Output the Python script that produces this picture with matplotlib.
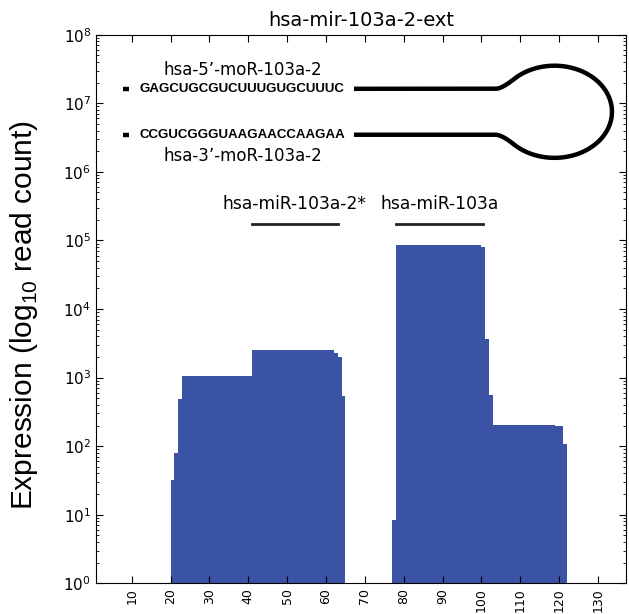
import numpy as np
import matplotlib
matplotlib.use("Agg")
import matplotlib.pyplot as plt

# read coverage per nucleotide segment (start, end, read count)
seg_start = [20, 21, 22, 23, 41, 62, 63, 64, 77, 78, 79, 100, 101, 102, 103, 119, 121]
seg_end = [21, 22, 23, 41, 62, 63, 64, 65, 78, 79, 100, 101, 102, 103, 119, 121, 122]
seg_count = [31.5, 78, 483, 1050, 2560, 2300, 1990, 541,
             7.5, 86000, 87000, 79600, 3640, 560, 205, 194, 108]

xticks = [10, 20, 30, 40, 50, 60, 70, 80, 90, 100, 110, 120, 130]

# mature miRNA annotations
mir_names = ["hsa-miR-103a-2*", "hsa-miR-103a"]
mir_start = [41, 78]
mir_end = [63, 100.3]

seq_5p = "GAGCUGCGUCUUUGUGCUUUC"
seq_3p = "CCGUCGGGUAAGAACCAAGAA"

blue = "#3A53A4"

fig = plt.figure(figsize=(6.29, 6.14), dpi=100)
ax = fig.add_axes([0.1526, 0.05, 0.8426, 0.8935])

widths = np.array(seg_end) - np.array(seg_start)
ax.bar(seg_start, seg_count, width=widths, align="edge", color=blue,
       linewidth=0, bottom=1)

ax.set_yscale("log")
ax.set_ylim(1, 1e8)
ax.set_xlim(0.8, 137.2)
ax.set_xticks(xticks)
ax.set_xticklabels([str(t) for t in xticks], rotation=90, fontsize=9)
ax.tick_params(which="both", direction="in", top=True, right=True)
ax.tick_params(which="major", length=5, labelsize=11)
ax.tick_params(axis="x", labelsize=9)
ax.tick_params(which="minor", length=2.5)

ax.set_title("hsa-mir-103a-2-ext", fontsize=14)

# mature annotations
for name, s, e in zip(mir_names, mir_start, mir_end):
    ax.plot([s, e], [1.76e5, 1.76e5], color="#222222", lw=2)
    ax.text((s + e) / 2, 10 ** 5.53, name, ha="center", va="center", fontsize=12.3)

# hairpin drawing in (x, log10 y) space
cx, cv, a, b = 118.8, 6.876, 14.8, 0.672
v_top, v_bot = 7.211, 6.541
x0, x1 = 67.2, 103.6
th1 = np.deg2rad(135)
px1, pv1 = cx + a * np.cos(th1), cv + b * np.sin(th1)
dx, dv = a * np.sin(th1), -b * np.cos(th1)
t = (v_top - pv1) / dv
ctrl_x = px1 + t * dx
tt = np.linspace(0, 1, 30)
bez_x = (1 - tt) ** 2 * x1 + 2 * (1 - tt) * tt * ctrl_x + tt ** 2 * px1
bez_v = (1 - tt) ** 2 * v_top + 2 * (1 - tt) * tt * v_top + tt ** 2 * pv1
th = np.linspace(th1, -th1, 200)
arc_x = cx + a * np.cos(th)
arc_v = cv + b * np.sin(th)
path_x = np.concatenate([[x0], bez_x, arc_x, bez_x[::-1], [x0]])
path_v = np.concatenate([[v_top], bez_v, arc_v, 2 * cv - bez_v[::-1], [v_bot]])
ax.plot(path_x, 10 ** path_v, color="black", lw=3.2, solid_capstyle="butt")

for v in (v_top, v_bot):
    ax.plot([7.8, 9.2], [10 ** v, 10 ** v], color="black", lw=3.2,
            solid_capstyle="butt")

seq_font = {"family": "Liberation Sans", "weight": "bold", "size": 9.5}
ax.text(11.9, 10 ** v_top, seq_5p, ha="left", va="center", fontdict=seq_font)
ax.text(11.9, 10 ** v_bot, seq_3p, ha="left", va="center", fontdict=seq_font)
ax.text(38.6, 10 ** 7.49, "hsa-5\u2019-moR-103a-2", ha="center", va="center", fontsize=12)
ax.text(38.6, 10 ** 6.236, "hsa-3\u2019-moR-103a-2", ha="center", va="center", fontsize=12)

fig.text(0.038, 0.487, r"Expression (log$_{\mathregular{10}}$ read count)", rotation=90,
         ha="center", va="center", fontsize=21.5, family="Liberation Sans")

fig.savefig("out.png", dpi=100)
